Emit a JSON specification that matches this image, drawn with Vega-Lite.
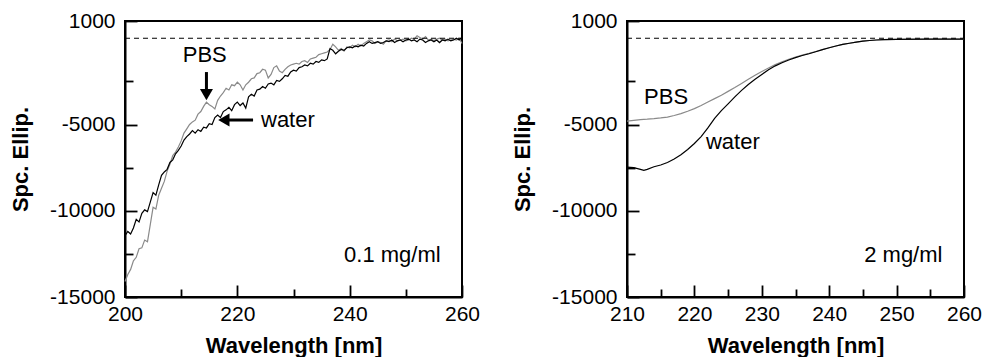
{
  "$schema": "https://vega.github.io/schema/vega-lite/v6.json",
  "padding": {"left": 8, "top": 9, "right": 0, "bottom": 0},
  "spacing": 29,
  "config": {
    "view": {"stroke": "black", "strokeWidth": 2},
    "font": "Liberation Sans",
    "axis": {"grid": false, "domainColor": "black", "domainWidth": 2, "tickColor": "black", "tickWidth": 1.8, "labelColor": "black", "titleColor": "black", "labelFont": "Liberation Sans", "titleFont": "Liberation Sans"},
    "text": {"font": "Liberation Sans", "fontSize": 22, "color": "black"}
  },
  "datasets": {
    "left": [
      {"wl":200.0,"water":-11450,"PBS":-14100},{"wl":200.5,"water":-11200,"PBS":-13700},{"wl":201.0,"water":-11350,"PBS":-13400},{"wl":201.5,"water":-11000,"PBS":-12900},
      {"wl":202.0,"water":-10500,"PBS":-12700},{"wl":202.5,"water":-10650,"PBS":-12200},{"wl":203.0,"water":-10150,"PBS":-12150},{"wl":203.5,"water":-9950,"PBS":-11700},
      {"wl":204.0,"water":-10050,"PBS":-11800},{"wl":204.5,"water":-9500,"PBS":-10800},{"wl":205.0,"water":-8950,"PBS":-9800},{"wl":205.5,"water":-9100,"PBS":-9900},
      {"wl":206.0,"water":-8500,"PBS":-9100},{"wl":206.5,"water":-7950,"PBS":-8700},{"wl":207.0,"water":-7750,"PBS":-8300},{"wl":207.5,"water":-7600,"PBS":-7700},
      {"wl":208.0,"water":-7200,"PBS":-7300},{"wl":208.5,"water":-7050,"PBS":-6800},{"wl":209.0,"water":-6700,"PBS":-6600},{"wl":209.5,"water":-6500,"PBS":-6300},
      {"wl":210.0,"water":-6250,"PBS":-5950},{"wl":210.5,"water":-5900,"PBS":-5500},{"wl":211.0,"water":-5700,"PBS":-5250},{"wl":211.5,"water":-5550,"PBS":-5000},
      {"wl":212.0,"water":-5350,"PBS":-4850},{"wl":212.5,"water":-5500,"PBS":-4750},{"wl":213.0,"water":-5300,"PBS":-4400},{"wl":213.5,"water":-5400,"PBS":-4250},
      {"wl":214.0,"water":-5150,"PBS":-3950},{"wl":214.5,"water":-5200,"PBS":-3700},{"wl":215.0,"water":-4950,"PBS":-3850},{"wl":215.5,"water":-5000,"PBS":-3950},
      {"wl":216.0,"water":-4600,"PBS":-4100},{"wl":216.5,"water":-4450,"PBS":-3600},{"wl":217.0,"water":-4600,"PBS":-3350},{"wl":217.5,"water":-4250,"PBS":-3150},
      {"wl":218.0,"water":-4150,"PBS":-2900},{"wl":218.5,"water":-4000,"PBS":-3000},{"wl":219.0,"water":-4200,"PBS":-2700},{"wl":219.5,"water":-3850,"PBS":-2750},
      {"wl":220.0,"water":-3700,"PBS":-2550},{"wl":220.5,"water":-3900,"PBS":-2700},{"wl":221.0,"water":-3750,"PBS":-3000},{"wl":221.5,"water":-4050,"PBS":-2700},
      {"wl":222.0,"water":-3400,"PBS":-2550},{"wl":222.5,"water":-3250,"PBS":-2350},{"wl":223.0,"water":-3350,"PBS":-2300},{"wl":223.5,"water":-3000,"PBS":-2050},
      {"wl":224.0,"water":-2950,"PBS":-2000},{"wl":224.5,"water":-2800,"PBS":-1800},{"wl":225.0,"water":-2900,"PBS":-1850},{"wl":225.5,"water":-2650,"PBS":-2300},
      {"wl":226.0,"water":-2600,"PBS":-2100},{"wl":226.5,"water":-2700,"PBS":-1700},{"wl":227.0,"water":-2450,"PBS":-1600},{"wl":227.5,"water":-2500,"PBS":-1900},
      {"wl":228.0,"water":-2350,"PBS":-2000},{"wl":228.5,"water":-2150,"PBS":-1800},{"wl":229.0,"water":-2200,"PBS":-1650},{"wl":229.5,"water":-1950,"PBS":-1550},
      {"wl":230.0,"water":-1850,"PBS":-1500},{"wl":230.5,"water":-1900,"PBS":-1450},{"wl":231.0,"water":-1700,"PBS":-1500},{"wl":231.5,"water":-1650,"PBS":-1350},
      {"wl":232.0,"water":-1550,"PBS":-1300},{"wl":232.5,"water":-1600,"PBS":-1400},{"wl":233.0,"water":-1450,"PBS":-1200},{"wl":233.5,"water":-1500,"PBS":-1150},
      {"wl":234.0,"water":-1350,"PBS":-1100},{"wl":234.5,"water":-1400,"PBS":-950},{"wl":235.0,"water":-1250,"PBS":-900},{"wl":235.5,"water":-1300,"PBS":-850},
      {"wl":236.0,"water":-1200,"PBS":-800},{"wl":236.5,"water":-600,"PBS":-650},{"wl":237.0,"water":-700,"PBS":-350},{"wl":237.5,"water":-900,"PBS":-500},
      {"wl":238.0,"water":-750,"PBS":-700},{"wl":238.5,"water":-650,"PBS":-600},{"wl":239.0,"water":-700,"PBS":-750},{"wl":239.5,"water":-550,"PBS":-500},
      {"wl":240.0,"water":-500,"PBS":-550},{"wl":240.5,"water":-550,"PBS":-400},{"wl":241.0,"water":-450,"PBS":-500},{"wl":241.5,"water":-500,"PBS":-350},
      {"wl":242.0,"water":-400,"PBS":-450},{"wl":242.5,"water":-450,"PBS":-300},{"wl":243.0,"water":-300,"PBS":-200},{"wl":243.5,"water":-200,"PBS":-100},
      {"wl":244.0,"water":-300,"PBS":-150},{"wl":244.5,"water":-250,"PBS":-300},{"wl":245.0,"water":-200,"PBS":-200},{"wl":245.5,"water":-300,"PBS":-250},
      {"wl":246.0,"water":-250,"PBS":-350},{"wl":246.5,"water":-150,"PBS":-150},{"wl":247.0,"water":-200,"PBS":-100},{"wl":247.5,"water":-100,"PBS":-200},
      {"wl":248.0,"water":-250,"PBS":-50},{"wl":248.5,"water":-150,"PBS":-150},{"wl":249.0,"water":-100,"PBS":-100},{"wl":249.5,"water":-200,"PBS":-50},
      {"wl":250.0,"water":-100,"PBS":-150},{"wl":250.5,"water":-50,"PBS":-100},{"wl":251.0,"water":-150,"PBS":0},{"wl":251.5,"water":-100,"PBS":-50},
      {"wl":252.0,"water":-200,"PBS":150},{"wl":252.5,"water":-50,"PBS":50},{"wl":253.0,"water":-100,"PBS":-50},{"wl":253.5,"water":-250,"PBS":100},
      {"wl":254.0,"water":-150,"PBS":-100},{"wl":254.5,"water":-100,"PBS":-50},{"wl":255.0,"water":-200,"PBS":-150},{"wl":255.5,"water":-100,"PBS":-50},
      {"wl":256.0,"water":-250,"PBS":0},{"wl":256.5,"water":-100,"PBS":-100},{"wl":257.0,"water":-150,"PBS":-50},{"wl":257.5,"water":-50,"PBS":-150},
      {"wl":258.0,"water":-150,"PBS":-100},{"wl":258.5,"water":-100,"PBS":-50},{"wl":259.0,"water":0,"PBS":-100},{"wl":259.5,"water":-100,"PBS":0},
      {"wl":260.0,"water":50,"PBS":-300}
    ],
    "right": [
      {"wl":210,"water":-7470,"PBS":-4800},{"wl":211,"water":-7500,"PBS":-4760},{"wl":212,"water":-7600,"PBS":-4720},{"wl":212.5,"water":-7660,"PBS":-4700},
      {"wl":213,"water":-7600,"PBS":-4690},{"wl":214,"water":-7450,"PBS":-4660},{"wl":215,"water":-7350,"PBS":-4620},{"wl":216,"water":-7200,"PBS":-4570},
      {"wl":217,"water":-7000,"PBS":-4480},{"wl":218,"water":-6750,"PBS":-4370},{"wl":219,"water":-6450,"PBS":-4230},{"wl":220,"water":-6100,"PBS":-4080},
      {"wl":221,"water":-5700,"PBS":-3900},{"wl":222,"water":-5200,"PBS":-3700},{"wl":223,"water":-4650,"PBS":-3500},{"wl":224,"water":-4200,"PBS":-3300},
      {"wl":225,"water":-3800,"PBS":-3080},{"wl":226,"water":-3400,"PBS":-2860},{"wl":227,"water":-3020,"PBS":-2620},{"wl":228,"water":-2680,"PBS":-2380},
      {"wl":229,"water":-2380,"PBS":-2150},{"wl":230,"water":-2100,"PBS":-1930},{"wl":231,"water":-1830,"PBS":-1720},{"wl":232,"water":-1600,"PBS":-1530},
      {"wl":233,"water":-1420,"PBS":-1370},{"wl":234,"water":-1260,"PBS":-1220},{"wl":235,"water":-1120,"PBS":-1090},{"wl":236,"water":-1000,"PBS":-980},
      {"wl":237,"water":-900,"PBS":-880},{"wl":238,"water":-780,"PBS":-770},{"wl":239,"water":-660,"PBS":-660},{"wl":240,"water":-550,"PBS":-550},
      {"wl":241,"water":-450,"PBS":-450},{"wl":242,"water":-360,"PBS":-360},{"wl":243,"water":-290,"PBS":-290},{"wl":244,"water":-220,"PBS":-220},
      {"wl":245,"water":-170,"PBS":-170},{"wl":246,"water":-130,"PBS":-130},{"wl":247,"water":-100,"PBS":-100},{"wl":248,"water":-80,"PBS":-80},
      {"wl":250,"water":-60,"PBS":-60},{"wl":255,"water":-50,"PBS":-50},{"wl":260,"water":-50,"PBS":-50}
    ]
  },
  "hconcat": [
    {
      "width": 337, "height": 276,
      "resolve": {"axis": {"x": "independent", "y": "independent"}},
      "layer": [
        {
          "data": {"name": "left"},
          "transform": [{"fold": ["PBS", "water"], "as": ["series", "v"]}],
          "mark": {"type": "line", "strokeWidth": 1.2},
          "encoding": {
            "x": {"field": "wl", "type": "quantitative", "scale": {"domain": [200, 260], "nice": false, "zero": false},
              "axis": {"orient": "bottom", "values": [200, 220, 240, 260], "ticks": false, "labelFontSize": 21, "labelPadding": 6, "labelFlush": false, "labelOverlap": false, "title": "Wavelength [nm]", "titleFontSize": 22, "titleFontWeight": "bold", "titlePadding": 11}},
            "y": {"field": "v", "type": "quantitative", "scale": {"domain": [-15000, 1000], "nice": false, "zero": false},
              "axis": {"orient": "left", "values": [1000, -5000, -10000, -15000], "ticks": false, "labelFontSize": 21, "labelPadding": 10, "labelFlush": false, "labelOverlap": false, "labelExpr": "'' + datum.value", "title": "Spc. Ellip.", "titleFontSize": 22, "titleFontWeight": "bold", "titlePadding": 17}},
            "color": {"field": "series", "type": "nominal", "scale": {"domain": ["PBS", "water"], "range": ["#8a8a8a", "#000000"]}, "legend": null}
          }
        },
        {
          "data": {"values": [{"a": 200, "b": 260, "y": 0}]},
          "mark": {"type": "rule", "strokeDash": [5, 4], "strokeWidth": 1, "color": "black"},
          "encoding": {
            "x": {"field": "a", "type": "quantitative", "axis": {"orient": "bottom", "values": [200, 220, 240, 260], "labels": false, "domain": false, "tickSize": -12, "title": null}},
            "x2": {"field": "b"},
            "y": {"field": "y", "type": "quantitative", "axis": {"orient": "left", "values": [1000, -5000, -10000, -15000], "labels": false, "domain": false, "tickSize": -12, "title": null}}
          }
        },
        {
          "data": {"values": [
            {"x": 214.2, "y": -990, "t": "PBS"},
            {"x": 229.0, "y": -4720, "t": "water"},
            {"x": 247.6, "y": -12590, "t": "0.1 mg/ml"}
          ]},
          "mark": {"type": "text", "baseline": "middle", "align": "center"},
          "encoding": {
            "x": {"field": "x", "type": "quantitative", "axis": {"orient": "bottom", "values": [210, 230, 250], "labels": false, "domain": false, "tickSize": -8, "title": null}},
            "y": {"field": "y", "type": "quantitative", "axis": {"orient": "left", "values": [-2500, -7500, -12500], "labels": false, "domain": false, "tickSize": -8, "title": null}},
            "text": {"field": "t"}
          }
        },
        {
          "data": {"values": [
            {"x": 214.5, "y": -1960, "x2": 214.5, "y2": -3270},
            {"x": 222.8, "y": -4740, "x2": 217.6, "y2": -4740}
          ]},
          "mark": {"type": "rule", "strokeWidth": 3, "color": "black"},
          "encoding": {
            "x": {"field": "x", "type": "quantitative", "axis": null},
            "x2": {"field": "x2"},
            "y": {"field": "y", "type": "quantitative", "axis": null},
            "y2": {"field": "y2"}
          }
        },
        {
          "data": {"values": [
            {"x": 214.5, "y": -3270, "s": "triangle-down"},
            {"x": 217.6, "y": -4740, "s": "triangle-left"}
          ]},
          "mark": {"type": "point", "filled": true, "size": 170, "color": "black", "opacity": 1},
          "encoding": {
            "x": {"field": "x", "type": "quantitative", "axis": null},
            "y": {"field": "y", "type": "quantitative", "axis": null},
            "shape": {"field": "s", "type": "nominal", "scale": null, "legend": null}
          }
        }
      ]
    },
    {
      "width": 337, "height": 276,
      "resolve": {"axis": {"x": "independent", "y": "independent"}},
      "layer": [
        {
          "data": {"name": "right"},
          "transform": [{"fold": ["PBS", "water"], "as": ["series", "v"]}],
          "mark": {"type": "line", "strokeWidth": 1.2},
          "encoding": {
            "x": {"field": "wl", "type": "quantitative", "scale": {"domain": [210, 260], "nice": false, "zero": false},
              "axis": {"orient": "bottom", "values": [210, 220, 230, 240, 250, 260], "ticks": false, "labelFontSize": 21, "labelPadding": 6, "labelFlush": false, "labelOverlap": false, "title": "Wavelength [nm]", "titleFontSize": 22, "titleFontWeight": "bold", "titlePadding": 11}},
            "y": {"field": "v", "type": "quantitative", "scale": {"domain": [-15000, 1000], "nice": false, "zero": false},
              "axis": {"orient": "left", "values": [1000, -5000, -10000, -15000], "ticks": false, "labelFontSize": 21, "labelPadding": 10, "labelFlush": false, "labelOverlap": false, "labelExpr": "'' + datum.value", "title": "Spc. Ellip.", "titleFontSize": 22, "titleFontWeight": "bold", "titlePadding": 17}},
            "color": {"field": "series", "type": "nominal", "scale": {"domain": ["PBS", "water"], "range": ["#8a8a8a", "#000000"]}, "legend": null}
          }
        },
        {
          "data": {"values": [{"a": 210, "b": 260, "y": 0}]},
          "mark": {"type": "rule", "strokeDash": [5, 4], "strokeWidth": 1, "color": "black"},
          "encoding": {
            "x": {"field": "a", "type": "quantitative", "axis": {"orient": "bottom", "values": [210, 220, 230, 240, 250, 260], "labels": false, "domain": false, "tickSize": -12, "title": null}},
            "x2": {"field": "b"},
            "y": {"field": "y", "type": "quantitative", "axis": {"orient": "left", "values": [1000, -5000, -10000, -15000], "labels": false, "domain": false, "tickSize": -12, "title": null}}
          }
        },
        {
          "data": {"values": [
            {"x": 215.8, "y": -3408, "t": "PBS"},
            {"x": 225.7, "y": -6018, "t": "water"},
            {"x": 251.0, "y": -12590, "t": "2 mg/ml"}
          ]},
          "mark": {"type": "text", "baseline": "middle", "align": "center"},
          "encoding": {
            "x": {"field": "x", "type": "quantitative", "axis": {"orient": "bottom", "values": [215, 225, 235, 245, 255], "labels": false, "domain": false, "tickSize": -8, "title": null}},
            "y": {"field": "y", "type": "quantitative", "axis": {"orient": "left", "values": [-2500, -7500, -12500], "labels": false, "domain": false, "tickSize": -8, "title": null}},
            "text": {"field": "t"}
          }
        }
      ]
    }
  ]
}
